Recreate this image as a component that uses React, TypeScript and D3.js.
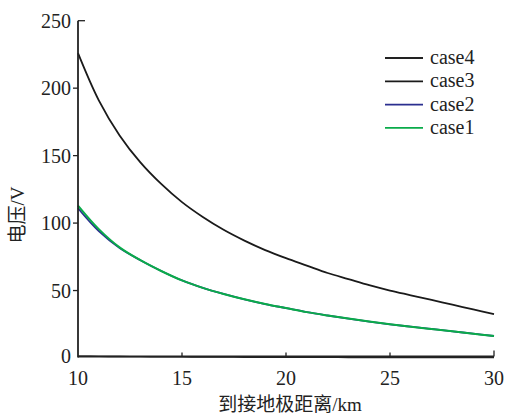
import React, { useEffect, useRef } from "react";
import * as d3 from "d3";

// distance to earth electrode, km
const distance = [10, 11, 12, 13, 14, 15, 16, 17, 18, 19, 20, 21, 22, 23, 24, 25, 26, 27, 28, 29, 30];
const case1 = [113, 95.5, 82, 72.5, 64.5, 57.5, 52, 47.5, 43.5, 40, 37, 34, 31.5, 29.2, 27, 25, 23.2, 21.5, 19.8, 18, 16.3];
const case2 = [111, 94, 81.5, 72.5, 64.5, 57.5, 52, 47.5, 43.5, 40, 37, 34, 31.5, 29.2, 27, 25, 23.2, 21.5, 19.8, 18, 16.3];
const case3 = [226, 191, 165, 145, 129, 115.5, 104.5, 95, 87, 80, 74, 68.5, 63, 58.5, 54, 50, 46.5, 43, 39.5, 36, 32.5];
const case4 = [1.4, 1.2, 1.1, 1, 0.9, 0.8, 0.7, 0.7, 0.6, 0.6, 0.5, 0.5, 0.5, 0.4, 0.4, 0.4, 0.4, 0.3, 0.3, 0.3, 0.3];

const xTicks = [10, 15, 20, 25, 30];
const yTicks = [0, 50, 100, 150, 200, 250];

const seriesNames = ["case4", "case3", "case2", "case1"];
const seriesColors = ["#222222", "#1a1a1a", "#2b2f8f", "#0aab4a"];
const seriesWidths = [1.4, 1.8, 1.8, 2];

const W = 507, H = 416;
const font = "'Liberation Serif', 'Times New Roman', serif";
const cjkFont = "'Liberation Serif', 'Noto Sans CJK SC', serif";

export default function App() {
    const svgRef = useRef<SVGSVGElement>(null);

    useEffect(() => {
        const svg = d3.select(svgRef.current);
        svg.selectAll("*").remove();

        const x = d3.scaleLinear().domain([10, 30]).range([78, 494]);
        const y = d3.scaleLinear().domain([0, 250]).range([358, 20.7]);

        const g = svg.append("g");

        // curves, case4 first so the green one ends on top
        const allSeries = [case4, case3, case2, case1];
        const line = d3.line<number>()
            .x((d, i) => x(distance[i]))
            .y((d) => y(d))
            .curve(d3.curveCatmullRom.alpha(0.5));
        allSeries.forEach((vals, k) => {
            g.append("path")
                .attr("d", line(vals))
                .attr("fill", "none")
                .attr("stroke", seriesColors[k])
                .attr("stroke-width", seriesWidths[k]);
        });

        // x axis
        const axisY = 356.5;
        g.append("line")
            .attr("x1", x(10)).attr("x2", x(30))
            .attr("y1", axisY).attr("y2", axisY)
            .attr("stroke", "#222").attr("stroke-width", 2);
        xTicks.forEach((t) => {
            if (t > 10) {
                g.append("line")
                    .attr("x1", x(t)).attr("x2", x(t))
                    .attr("y1", axisY).attr("y2", axisY - (t === 30 ? 6 : 4))
                    .attr("stroke", "#222").attr("stroke-width", 1.3);
            }
            g.append("text")
                .attr("x", x(t)).attr("y", 385)
                .attr("text-anchor", "middle")
                .style("font-family", font).attr("font-size", 20)
                .attr("fill", "#222")
                .text(t);
        });

        // y axis
        g.append("line")
            .attr("x1", 78).attr("x2", 78)
            .attr("y1", y(250)).attr("y2", axisY + 1)
            .attr("stroke", "#222").attr("stroke-width", 1.8);
        yTicks.forEach((t) => {
            if (t === 250) {
                g.append("line")
                    .attr("x1", 78).attr("x2", 85)
                    .attr("y1", y(t)).attr("y2", y(t))
                    .attr("stroke", "#222").attr("stroke-width", 1.3);
            } else if (t > 0) {
                g.append("line")
                    .attr("x1", 73).attr("x2", 78)
                    .attr("y1", y(t)).attr("y2", y(t))
                    .attr("stroke", "#222").attr("stroke-width", 1.3);
            }
            g.append("text")
                .attr("x", 71).attr("y", y(t) + (t === 0 ? 5 : 7))
                .attr("text-anchor", "end")
                .style("font-family", font).attr("font-size", 20)
                .attr("fill", "#222")
                .text(t);
        });

        // axis titles
        g.append("text")
            .attr("x", 290).attr("y", 411)
            .attr("text-anchor", "middle")
            .style("font-family", cjkFont).attr("font-size", 19)
            .attr("fill", "#222")
            .text("到接地极距离/km");
        g.append("text")
            .attr("transform", "translate(24,215) rotate(-90)")
            .attr("text-anchor", "middle")
            .style("font-family", cjkFont).attr("font-size", 19)
            .attr("fill", "#222")
            .text("电压/V");

        // legend
        seriesNames.forEach((name, k) => {
            const ly = 58 + k * 23.3;
            g.append("line")
                .attr("x1", 385).attr("x2", 423)
                .attr("y1", ly).attr("y2", ly)
                .attr("stroke", seriesColors[k]).attr("stroke-width", 1.8);
            g.append("text")
                .attr("x", 430).attr("y", ly + 6)
                .style("font-family", font).attr("font-size", 20)
                .attr("fill", "#222")
                .text(name);
        });
    }, []);

    return (
        <svg ref={svgRef} width={W} height={H}
            style={{ position: "absolute", left: 0, top: 0, background: "#fff" }} />
    );
}
